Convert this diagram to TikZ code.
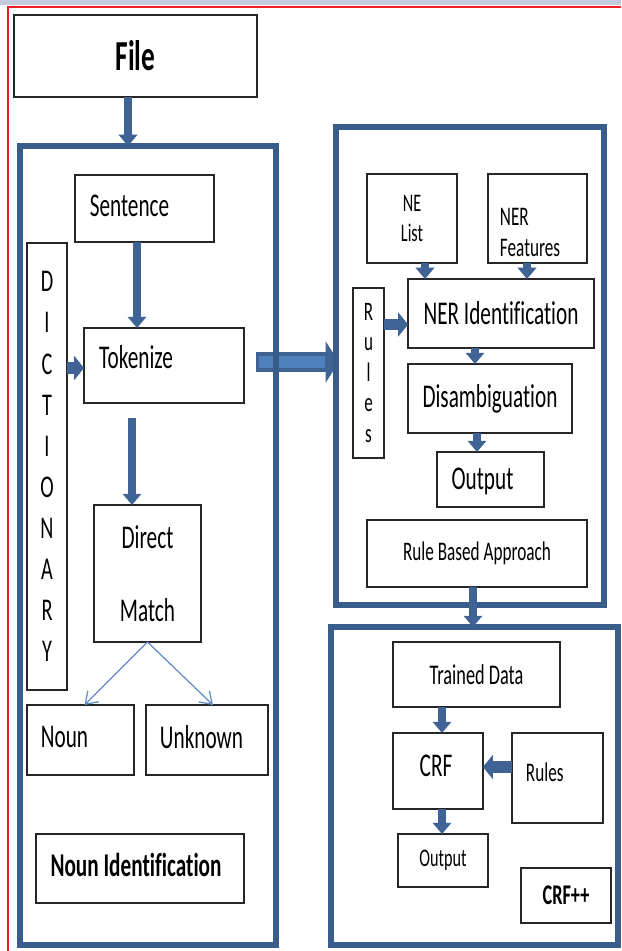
\documentclass[tikz,border=0pt]{standalone}
\usepackage{fontspec}
\setmainfont{Carlito}[FakeStretch=0.64, Ligatures={TeX,NoCommon}]
\usetikzlibrary{arrows.meta, backgrounds}
\definecolor{boxblue}{RGB}{56,93,138}
\definecolor{arrblue}{RGB}{62,99,148}
\definecolor{arrfill}{RGB}{79,129,189}
\definecolor{thinblue}{RGB}{98,142,200}
\definecolor{bandgray}{RGB}{196,203,221}
\definecolor{framered}{RGB}{235,30,35}
\newcommand{\pxu}{0.025cm}

\begin{document}
\begin{tikzpicture}[
    x=0.025cm, y=-0.025cm,
    font=\fontsize{23.6}{28}\selectfont,
    %% -- node styles --------------------------------------------------------
    wh/.style 2 args={minimum width=#1*\pxu, minimum height=#2*\pxu},
    box/.style={draw=black!85, line width=1pt, inner sep=0pt, outer sep=0pt},
    stage/.style={draw=boxblue, line width=3.6pt, inner sep=0pt, outer sep=0pt},
    mid/.style={font=\fontsize{19.1}{22}\selectfont},
    small/.style={font=\fontsize{18}{21.3}\selectfont},
    %% -- edge styles --------------------------------------------------------
    fat/.style={draw=arrblue, line width=5pt, -{Triangle[width=13pt,length=8pt]}},
    wide/.style={draw=arrblue, line width=8pt, -{Triangle[width=17pt,length=7pt]}},
    slim/.style={draw=thinblue, line width=0.9pt, -{Straight Barb[width=11pt,length=8pt]}},
]
\useasboundingbox (0,0) rectangle (621,951);

%% page frame
\fill[bandgray] (0,0) rectangle (621,5);
\draw[framered, line width=1.5pt] (8,951) -- (8,7) -- (621,7);

%% ---------------------------------------------------------------------------
%% Noun identification stage
%% ---------------------------------------------------------------------------
\node[box, wh={243}{82}, font=\fontsize{30.4}{34}\selectfont\bfseries] (file) at (135.5,56) {File};

\node[stage, wh={256}{799}] (left) at (148,545.5) {};

\node[box, wh={139}{67}, label={[shift={(-15,-3)}]center:Sentence}] (sen) at (144.5,208.5) {};
\node[box, wh={40}{447}, align=center, font=\fontsize{22.5}{29.2}\selectfont] (dict) at (47,466.5)
    {D\\I\\C\\T\\I\\O\\N\\A\\R\\Y};
\node[box, wh={160}{75}, label={[shift={(-28,-8)}]center:Tokenize}] (tok) at (164,365.5) {};
\node[box, wh={107}{137}, align=center] (dm) at (147.5,573.5) {Direct\\[24pt]Match};
\node[box, wh={107}{70}, label={[shift={(-16,-3)}]center:Noun}] (noun) at (80.5,740) {};
\node[box, wh={122}{70}, label={[shift={(-5.5,-3)}]center:Unknown}] (unk) at (207,740) {};
\node[box, wh={208}{69},
      label={[shift={(-4,-4)}, font=\fontsize{23.6}{28}\selectfont\bfseries]center:Noun Identification}]
    (nid) at (140,868.5) {};

\draw[fat] ([xshift=-7.5*\pxu]file.south) -- ([xshift=-7.5*\pxu]file.south |- left.north);
\draw[fat] ([xshift=-7.5*\pxu]sen.south) -- ([xshift=-7.5*\pxu]sen.south |- tok.north);
\draw[wide] ([yshift=-2.5*\pxu]tok.west -| dict.east) -- ([yshift=-2.5*\pxu]tok.west);
\draw[fat] ([shift={(-15.5,15)}]dm.north |- tok.south) -- ([xshift=-15.5*\pxu]dm.north);
\draw[slim] (dm.south) -- ([xshift=4*\pxu]noun.north);
\draw[slim] (dm.south) -- ([xshift=6*\pxu]unk.north);

%% ---------------------------------------------------------------------------
%% Rule based stage
%% ---------------------------------------------------------------------------
\node[stage, wh={268}{478}] (right) at (470,366) {};

\node[box, wh={90}{89}, align=center, small] (nel) at (412,218.5) {NE\\List};
\node[box, wh={99}{89},
      label={[mid, align=left, anchor=west, shift={(7,14)}]west:NER\\Features}]
    (nef) at (537.5,218.5) {};
\node[box, wh={31}{170}, align=center, font=\fontsize{19}{21.7}\selectfont] (rul) at (368.5,373)
    {R\\u\\l\\e\\s};
\node[box, wh={186}{69}] (nerid) at (501,313.5) {NER Identification};
\node[box, wh={164}{69}] (dis) at (490,398.5) {Disambiguation};
\node[box, wh={107}{55}, label={[shift={(-8,2)}]center:Output}] (out) at (490.5,479.5) {};
\node[box, wh={220}{67}, mid] (rba) at (477,553.5) {Rule Based Approach};

\draw[fat] ([xshift=13*\pxu]nel.south) -- ([xshift=13*\pxu]nel.south |- nerid.north);
\draw[fat] ([xshift=-10.5*\pxu]nef.south) -- ([xshift=-10.5*\pxu]nef.south |- nerid.north);
\draw[wide] ([yshift=-11*\pxu]nerid.west -| rul.east) -- ([yshift=-11*\pxu]nerid.west);
\draw[fat] ([xshift=-26*\pxu]nerid.south) -- ([xshift=-26*\pxu]nerid.south |- dis.north);
\draw[fat] ([xshift=-13*\pxu]dis.south) -- ([xshift=-13*\pxu]dis.south |- out.north);

%% big hand-over arrow, kept under the stage borders
\coordinate (hand) at (256,362);
\begin{scope}[on background layer]
  \draw[draw=arrblue, line width=14pt, -{Triangle[width=29pt,length=9.5pt]}]
      (hand) -- ([xshift=3*\pxu]hand -| right.west);
  \draw[arrfill, line width=8.5pt] ([xshift=3*\pxu]hand) -- ([xshift=-11*\pxu]hand -| right.west);
\end{scope}

%% ---------------------------------------------------------------------------
%% CRF++ stage
%% ---------------------------------------------------------------------------
\node[stage, wh={287}{318}] (crfst) at (474.5,786) {};

\node[box, wh={167}{65}, font=\fontsize{20.3}{24}\selectfont] (td) at (476.5,674.5) {Trained Data};
\node[box, wh={90}{76}, label={[shift={(-2,-5)}]center:CRF}] (crf) at (438,771) {};
\node[box, wh={91}{90}, label={[mid, anchor=west, shift={(9,-6)}]west:Rules}] (rl) at (557.5,778) {};
\node[box, wh={90}{53}, small] (out2) at (443,860.5) {Output};
\node[box, wh={90}{55}, font=\fontsize{20.3}{24}\selectfont\bfseries] (crfpp) at (566,895.5) {CRF++};

\draw[fat] ([xshift=-4*\pxu]rba.south) -- ([xshift=-4*\pxu]rba.south |- crfst.north);
\draw[fat] ([xshift=-34.5*\pxu]td.south) -- ([xshift=-34.5*\pxu]td.south |- crf.north);
\draw[wide] ([yshift=4*\pxu]rl.west |- crf.east) -- ([yshift=4*\pxu]crf.east);
\draw[fat] ([xshift=4*\pxu]crf.south) -- ([xshift=4*\pxu]crf.south |- out2.north);

\end{tikzpicture}
\end{document}
